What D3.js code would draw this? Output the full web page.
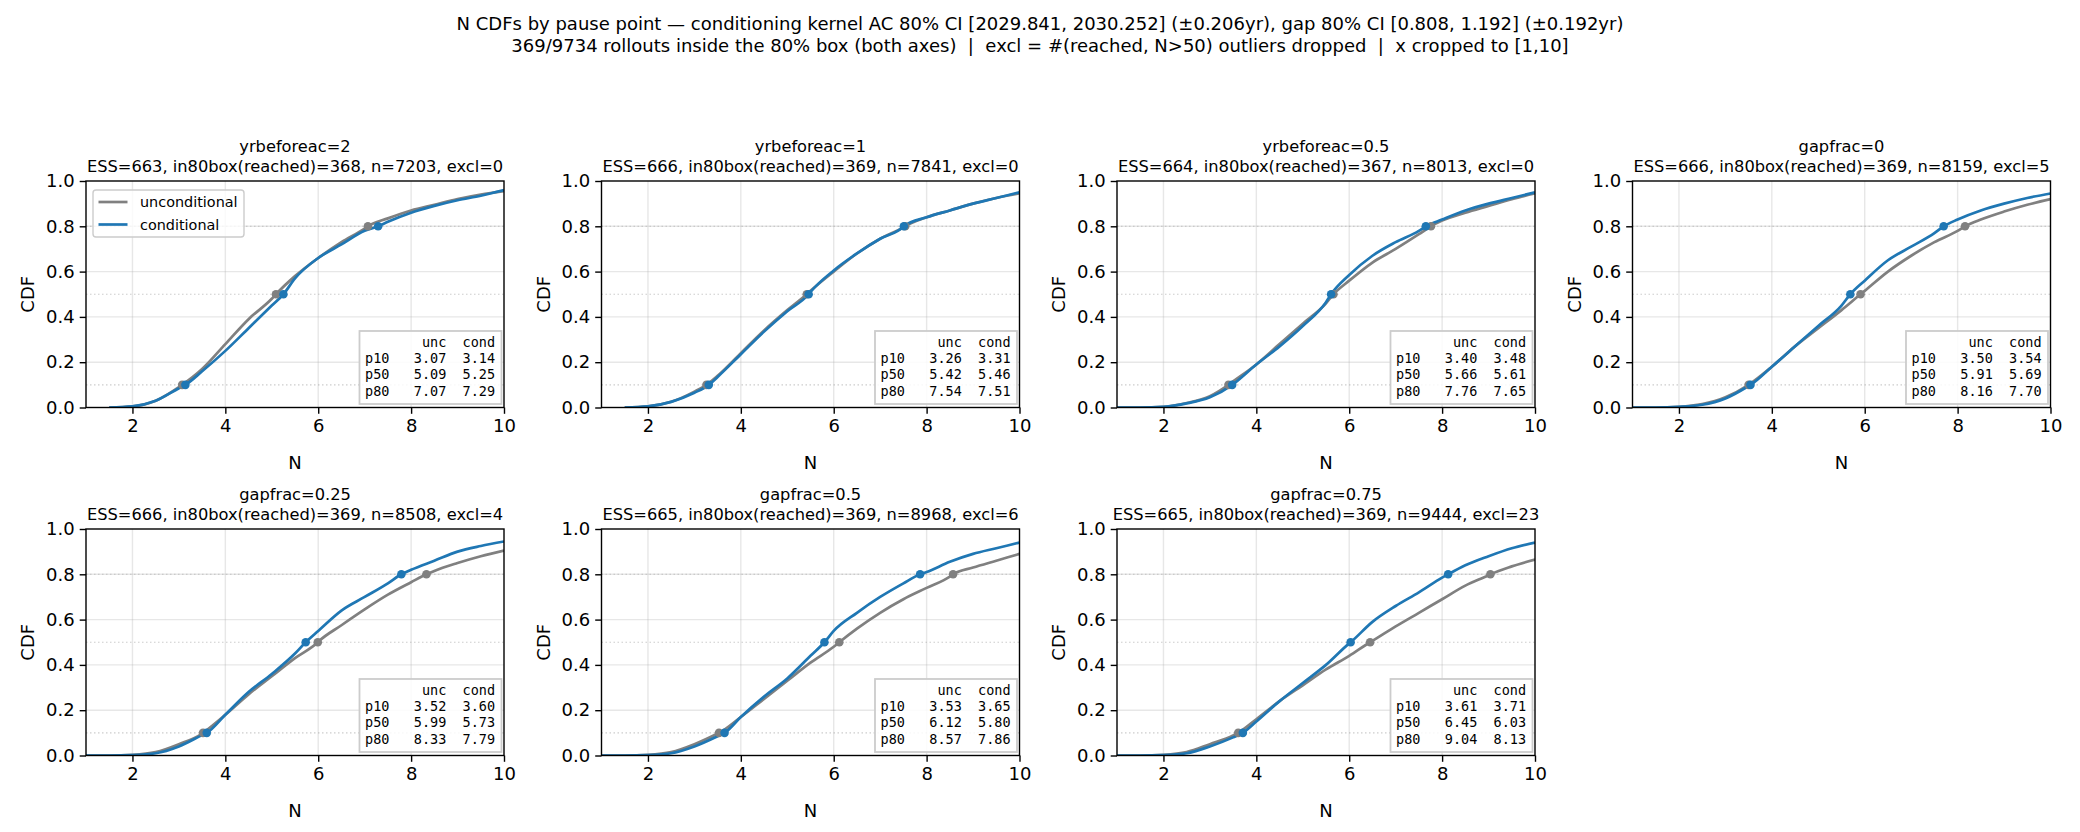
<!DOCTYPE html>
<html>
<head>
<meta charset="utf-8">
<script src="https://cdn.jsdelivr.net/npm/d3@7"></script>
<style>
  body { margin: 0; background: #fff; }
  text { font-family: "DejaVu Sans", sans-serif; fill: #000; }
  .mono { font-family: "DejaVu Sans Mono", monospace; white-space: pre; }
</style>
</head>
<body>
<div id="chart"></div>
<script>
// chart data
var gridN = [1, 1.5, 2, 2.5, 3, 3.5, 4, 4.5, 5, 5.5, 6, 6.5, 7, 7.5, 8, 8.5, 9, 9.5, 10];

var panelNames = ["yrbeforeac=2", "yrbeforeac=1", "yrbeforeac=0.5", "gapfrac=0",
                  "gapfrac=0.25", "gapfrac=0.5", "gapfrac=0.75"];
var essVals = [663, 666, 664, 666, 666, 665, 665];
var in80Vals = [368, 369, 367, 369, 369, 369, 369];
var nVals = [7203, 7841, 8013, 8159, 8508, 8968, 9444];
var exclVals = [0, 0, 0, 5, 4, 6, 23];

var pctLabels = ["p10", "p50", "p80"];
var pctLevels = [0.1, 0.5, 0.8];
var uncPct = [[3.07, 5.09, 7.07], [3.26, 5.42, 7.54], [3.40, 5.66, 7.76], [3.50, 5.91, 8.16],
              [3.52, 5.99, 8.33], [3.53, 6.12, 8.57], [3.61, 6.45, 9.04]];
var condPct = [[3.14, 5.25, 7.29], [3.31, 5.46, 7.51], [3.48, 5.61, 7.65], [3.54, 5.69, 7.70],
               [3.60, 5.73, 7.79], [3.65, 5.80, 7.86], [3.71, 6.03, 8.13]];

// CDF read at gridN (null = no data there)
var uncCdf = [
  [null, 0, 0.005, 0.03, 0.09, 0.17, 0.28, 0.39, 0.48, 0.58, 0.66, 0.73, 0.79, 0.835, 0.87, 0.895, 0.92, 0.94, 0.955],
  [null, 0, 0.005, 0.025, 0.07, 0.14, 0.24, 0.34, 0.43, 0.515, 0.6, 0.68, 0.745, 0.795, 0.84, 0.87, 0.9, 0.925, 0.945],
  [0, 0, 0.003, 0.02, 0.05, 0.115, 0.19, 0.28, 0.37, 0.46, 0.56, 0.64, 0.70, 0.765, 0.825, 0.86, 0.89, 0.92, 0.945],
  [0, 0, 0.003, 0.015, 0.045, 0.1, 0.18, 0.27, 0.35, 0.43, 0.515, 0.6, 0.67, 0.73, 0.78, 0.83, 0.865, 0.895, 0.92],
  [0, 0, 0.003, 0.015, 0.05, 0.097, 0.18, 0.27, 0.35, 0.43, 0.502, 0.575, 0.645, 0.71, 0.765, 0.815, 0.85, 0.88, 0.905],
  [0, 0, 0.003, 0.015, 0.05, 0.097, 0.17, 0.25, 0.33, 0.41, 0.48, 0.56, 0.63, 0.69, 0.74, 0.79, 0.83, 0.86, 0.89],
  [0, 0, 0.003, 0.015, 0.05, 0.088, 0.16, 0.24, 0.31, 0.38, 0.44, 0.506, 0.57, 0.63, 0.69, 0.75, 0.796, 0.835, 0.865]
];
var condCdf = [
  [null, 0, 0.005, 0.03, 0.085, 0.16, 0.25, 0.35, 0.45, 0.57, 0.66, 0.72, 0.78, 0.82, 0.86, 0.89, 0.915, 0.935, 0.96],
  [null, 0, 0.005, 0.025, 0.065, 0.135, 0.235, 0.335, 0.425, 0.51, 0.605, 0.68, 0.745, 0.798, 0.84, 0.87, 0.9, 0.925, 0.95],
  [0, 0, 0.003, 0.018, 0.045, 0.103, 0.19, 0.27, 0.36, 0.465, 0.585, 0.67, 0.73, 0.78, 0.83, 0.87, 0.9, 0.925, 0.95],
  [0, 0, 0.003, 0.012, 0.04, 0.095, 0.18, 0.27, 0.36, 0.45, 0.56, 0.65, 0.71, 0.77, 0.83, 0.87, 0.9, 0.925, 0.945],
  [0, 0, 0.002, 0.01, 0.04, 0.09, 0.18, 0.28, 0.36, 0.45, 0.55, 0.64, 0.7, 0.76, 0.82, 0.86, 0.9, 0.925, 0.945],
  [0, 0, 0.002, 0.01, 0.04, 0.085, 0.17, 0.26, 0.34, 0.44, 0.55, 0.63, 0.7, 0.76, 0.81, 0.855, 0.89, 0.915, 0.94],
  [0, 0, 0.002, 0.01, 0.04, 0.08, 0.15, 0.24, 0.32, 0.4, 0.495, 0.59, 0.66, 0.72, 0.785, 0.84, 0.88, 0.915, 0.94]
];

var xTicks = [2, 4, 6, 8, 10];
var yTicks = [0, 0.2, 0.4, 0.6, 0.8, 1.0];

var titleLines = [
  "N CDFs by pause point \u2014 conditioning kernel AC 80% CI [2029.841, 2030.252] (\u00b10.206yr), gap 80% CI [0.808, 1.192] (\u00b10.192yr)",
  "369/9734 rollouts inside the 80% box (both axes)  |  excl = #(reached, N>50) outliers dropped  |  x cropped to [1,10]"
];

// layout
var W = 2080, H = 832;
var colLeft = [86, 601.5, 1117, 1632.5];
var rowTop = [181, 529];
var pw = 418, ph = 226.5;
var uncColor = "#808080", condColor = "#1f77b4";

var svg = d3.select("#chart")
  .append("svg")
  .attr("width", W)
  .attr("height", H);

svg.append("rect").attr("width", W).attr("height", H).attr("fill", "#fff");

// suptitle
svg.selectAll(".suptitle")
  .data(titleLines)
  .enter()
  .append("text")
  .attr("class", "suptitle")
  .attr("x", W / 2)
  .attr("y", function (d, i) { return 30 + i * 21.5; })
  .attr("text-anchor", "middle")
  .style("font-size", "18px")
  .style("white-space", "pre")
  .text(function (d) { return d; });

var x = d3.scaleLinear().domain([1, 10]).range([0, pw]);
var y = d3.scaleLinear().domain([0, 1]).range([ph, 0]);

function seriesPoints(cdf, pct) {
  var pts = [];
  gridN.forEach(function (n, i) { if (cdf[i] !== null) pts.push([n, cdf[i]]); });
  pct.forEach(function (p, i) { pts.push([p, pctLevels[i]]); });
  pts.sort(function (a, b) { return a[0] - b[0]; });
  return pts;
}

function drawPanel(k) {
  var g = svg.append("g")
    .attr("transform", "translate(" + colLeft[k % 4] + "," + rowTop[Math.floor(k / 4)] + ")");

  g.append("defs").append("clipPath").attr("id", "clip" + k)
    .append("rect").attr("width", pw).attr("height", ph);

  // grid
  g.append("g").selectAll("line")
    .data(xTicks.slice(0, 4))
    .enter().append("line")
    .attr("x1", function (d) { return x(d); }).attr("x2", function (d) { return x(d); })
    .attr("y1", 0).attr("y2", ph)
    .attr("stroke", "#b0b0b0").attr("stroke-opacity", 0.3).attr("stroke-width", 1.4);
  g.append("g").selectAll("line")
    .data(yTicks.slice(1, 5))
    .enter().append("line")
    .attr("x1", 0).attr("x2", pw)
    .attr("y1", function (d) { return y(d); }).attr("y2", function (d) { return y(d); })
    .attr("stroke", "#b0b0b0").attr("stroke-opacity", 0.3).attr("stroke-width", 1.4);

  // percentile reference lines
  g.append("g").selectAll("line")
    .data(pctLevels)
    .enter().append("line")
    .attr("x1", 0).attr("x2", pw)
    .attr("y1", function (d) { return y(d); }).attr("y2", function (d) { return y(d); })
    .attr("stroke", "#999").attr("stroke-opacity", 0.5).attr("stroke-width", 1.1)
    .attr("stroke-dasharray", "1.5,2.5");

  var line = d3.line()
    .curve(d3.curveMonotoneX)
    .x(function (d) { return x(d[0]); })
    .y(function (d) { return y(d[1]); });

  var curves = g.append("g").attr("clip-path", "url(#clip" + k + ")");
  curves.append("path")
    .datum(seriesPoints(uncCdf[k], uncPct[k]))
    .attr("d", line).attr("fill", "none")
    .attr("stroke", uncColor).attr("stroke-width", 2.7);
  curves.append("path")
    .datum(seriesPoints(condCdf[k], condPct[k]))
    .attr("d", line).attr("fill", "none")
    .attr("stroke", condColor).attr("stroke-width", 2.7);

  g.append("g").selectAll("circle")
    .data(uncPct[k])
    .enter().append("circle")
    .attr("cx", function (d) { return x(d); })
    .attr("cy", function (d, i) { return y(pctLevels[i]); })
    .attr("r", 4.3).attr("fill", uncColor);
  g.append("g").selectAll("circle")
    .data(condPct[k])
    .enter().append("circle")
    .attr("cx", function (d) { return x(d); })
    .attr("cy", function (d, i) { return y(pctLevels[i]); })
    .attr("r", 4.3).attr("fill", condColor);

  // axes
  var xAxis = g.append("g")
    .attr("transform", "translate(0," + ph + ")")
    .call(d3.axisBottom(x).tickValues(xTicks).tickFormat(d3.format("d")).tickSizeOuter(0).tickSize(6.3).tickPadding(5));
  var yAxis = g.append("g")
    .call(d3.axisLeft(y).tickValues(yTicks).tickFormat(d3.format(".1f")).tickSizeOuter(0).tickSize(6.3).tickPadding(5));
  [xAxis, yAxis].forEach(function (a) {
    a.selectAll("text").style("font-size", "18px").style("font-family", "DejaVu Sans").attr("fill", "#000");
    a.selectAll("line").attr("stroke-width", 1.4).attr("stroke", "#000");
    a.select(".domain").remove();
  });

  // spines
  g.append("rect")
    .attr("width", pw).attr("height", ph)
    .attr("fill", "none").attr("stroke", "#000").attr("stroke-width", 1.4);

  // axis labels
  g.append("text")
    .attr("x", pw / 2).attr("y", ph + 61)
    .attr("text-anchor", "middle").style("font-size", "18px")
    .text("N");
  g.append("text")
    .attr("transform", "translate(-52," + (ph / 2) + ") rotate(-90)")
    .attr("text-anchor", "middle").style("font-size", "18px")
    .text("CDF");

  // titles
  g.append("text")
    .attr("x", pw / 2).attr("y", -29)
    .attr("text-anchor", "middle").style("font-size", "16.25px")
    .text(panelNames[k]);
  g.append("text")
    .attr("x", pw / 2).attr("y", -9.5)
    .attr("text-anchor", "middle").style("font-size", "16.25px")
    .text("ESS=" + essVals[k] + ", in80box(reached)=" + in80Vals[k] + ", n=" + nVals[k] + ", excl=" + exclVals[k]);

  // percentile table
  var bw = 142, bh = 73;
  var tb = g.append("g").attr("transform", "translate(" + (pw - 2.5 - bw) + "," + (ph - 3.5 - bh) + ")");
  tb.append("rect")
    .attr("width", bw).attr("height", bh)
    .attr("fill", "#fff").attr("fill-opacity", 0.85)
    .attr("stroke", "#cccccc").attr("stroke-width", 1.8);
  var rows = ["       unc  cond"];
  pctLabels.forEach(function (p, i) {
    rows.push(p + "   " + uncPct[k][i].toFixed(2) + "  " + condPct[k][i].toFixed(2));
  });
  tb.selectAll("text")
    .data(rows)
    .enter().append("text")
    .attr("class", "mono")
    .attr("x", 5.5)
    .attr("y", function (d, i) { return 16 + i * 16.2; })
    .style("font-size", "13.5px")
    .text(function (d) { return d; });

  // legend only on first panel
  if (k == 0) {
    var lg = g.append("g").attr("transform", "translate(7,9)");
    lg.append("rect")
      .attr("width", 151).attr("height", 47).attr("rx", 3)
      .attr("fill", "#fff").attr("fill-opacity", 0.8)
      .attr("stroke", "#cccccc").attr("stroke-width", 1.4);
    var items = [["unconditional", uncColor], ["conditional", condColor]];
    items.forEach(function (it, i) {
      lg.append("line")
        .attr("x1", 5.5).attr("x2", 34.5)
        .attr("y1", 12 + i * 22.5).attr("y2", 12 + i * 22.5)
        .attr("stroke", it[1]).attr("stroke-width", 2.7);
      lg.append("text")
        .attr("x", 47).attr("y", 17 + i * 22.5)
        .style("font-size", "14.4px")
        .text(it[0]);
    });
  }
}

for (var k = 0; k < panelNames.length; k++) drawPanel(k);
</script>
</body>
</html>
